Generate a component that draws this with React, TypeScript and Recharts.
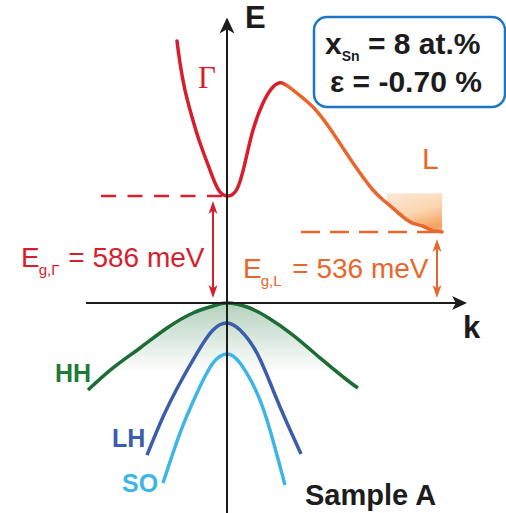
import React from 'react';
import { ComposedChart, Line, Area, XAxis, YAxis, ReferenceLine } from 'recharts';

// Gaps and sample parameters (energies in meV above the valence-band maximum)
const GAP_GAMMA = 586;
const GAP_L = 536;
const X_SN = 8;
const STRAIN = -0.7;

// Plot window in (k, E)
const K_MIN = -2.27;
const K_MAX = 2.79;
const E_MIN = -1200;
const E_MAX = 1600;

// Conduction band: Γ valley, the hump, and the L valley
const CB_K = [-0.5, -0.47, -0.42, -0.35, -0.27, -0.17, -0.09, 0, 0.1, 0.18, 0.26, 0.36, 0.46, 0.55, 0.66, 0.86, 1.06, 1.26, 1.46, 1.6, 1.76, 1.86, 1.96, 2.05, 2.1, 2.15];
const CB_E = [1388, 1274, 1134, 995, 860, 720, 622, GAP_GAMMA, 622, 757, 927, 1067, 1150, 1171, 1134, 1046, 912, 757, 617, 576, 557, 548, 544, 538, 537, GAP_L];

// Populated states in the L valley
const SHADE_FROM_K = 1.6;
const SHADE_TOP_E = 600;

// Valence bands
const HH_K = [-1.39, -1.14, -0.87, -0.6, -0.34, -0.14, 0, 0.2, 0.4, 0.66, 0.93, 1.2, 1.31];
const HH_E = [-497, -371, -257, -143, -57, -17, 0, -23, -80, -183, -314, -440, -486];
const HH_SHADE_FLOOR = -400;

const LH_K = [-0.8, -0.64, -0.47, -0.3, -0.14, 0, 0.13, 0.3, 0.46, 0.6, 0.74];
const LH_E = [-869, -651, -457, -286, -154, -114, -154, -286, -497, -686, -863];

const SO_K = [-0.64, -0.47, -0.3, -0.14, 0, 0.13, 0.3, 0.43, 0.58];
const SO_E = [-1029, -743, -514, -343, -291, -343, -514, -726, -1040];

// Annotation anchors
const GAMMA_ARROW_K = -0.14;
const L_ARROW_K = 2.1;
const GAMMA_DASH_FROM = -1.26;
const L_DASH_FROM = 0.74;
const K_AXIS_FROM = -1.41;
const K_AXIS_TO = 2.4;
const E_AXIS_TO = 1510;

const RED = '#d81e2c';
const ORANGE = '#e7672d';
const GREEN = '#1b6c35';
const BLUE = '#3a5eaa';
const CYAN = '#3fb5e7';
const INK = '#1c1c1c';
const FONT = '"Liberation Sans", Arial, Helvetica, sans-serif';

const zip = (ks: number[], es: number[]) => ks.map((k, i) => ({ k, e: es[i] }));
const cbData = zip(CB_K, CB_E);
const hhData = zip(HH_K, HH_E);
const lhData = zip(LH_K, LH_E);
const soData = zip(SO_K, SO_E);
const lShadeData = cbData.filter((p) => p.k >= SHADE_FROM_K);

// colour switch Γ -> L at the top of the hump
const humpIdx = cbData.reduce((best, p, i) => (p.k > 0 && p.e > cbData[best].e ? i : best), cbData.findIndex((p) => p.k > 0));
const humpFrac = (CB_K[humpIdx] - CB_K[0]) / (CB_K[CB_K.length - 1] - CB_K[0]);

// Energy axis is a sketch, not to scale: piecewise-linear between knots
const E_KNOTS = [E_MIN, 0, GAP_L, GAP_GAMMA, E_MAX];
const E_SPAN = [-210, 0, 71, 107, 303];

function sketchEnergyScale(): any {
  let dom = [E_MIN, E_MAX];
  let rng = [1, 0];
  const toSpan = (e: number) => {
    let i = 0;
    while (i < E_KNOTS.length - 2 && e > E_KNOTS[i + 1]) i++;
    const t = (e - E_KNOTS[i]) / (E_KNOTS[i + 1] - E_KNOTS[i]);
    return E_SPAN[i] + t * (E_SPAN[i + 1] - E_SPAN[i]);
  };
  const scale: any = (e: number) => {
    const a = toSpan(Number(dom[0]));
    const b = toSpan(Number(dom[dom.length - 1]));
    return rng[0] + ((toSpan(e) - a) / (b - a)) * (rng[rng.length - 1] - rng[0]);
  };
  scale.domain = (d?: number[]) => {
    if (d === undefined) return dom.slice();
    dom = d.slice();
    return scale;
  };
  scale.range = (r?: number[]) => {
    if (r === undefined) return rng.slice();
    rng = r.slice();
    return scale;
  };
  scale.copy = () => sketchEnergyScale().domain(dom).range(rng);
  scale.ticks = () => E_KNOTS.filter((v) => v >= Number(dom[0]) && v <= Number(dom[dom.length - 1]));
  scale.tickFormat = () => (v: number) => String(v);
  scale.nice = () => scale;
  scale.clamp = () => scale;
  return scale;
}
const energyScale = sketchEnergyScale();

type ArrowOpts = {
  color: string;
  width: number;
  head: number;
  half: number;
  startTip?: number;
  endTip?: number;
  twoWay?: boolean;
};

function arrowShape(o: ArrowOpts) {
  return (p: any) => {
    const x1 = Number(p.x1);
    const y1 = Number(p.y1);
    const x2 = Number(p.x2);
    const y2 = Number(p.y2);
    const len = Math.hypot(x2 - x1, y2 - y1) || 1;
    const ux = (x2 - x1) / len;
    const uy = (y2 - y1) / len;
    const nx = -uy;
    const ny = ux;
    const st = o.startTip ?? 0;
    const et = o.endTip ?? 0;
    const s = { x: x1 + ux * st, y: y1 + uy * st };
    const e = { x: x2 - ux * et, y: y2 - uy * et };
    const headPath = (tx: number, ty: number, dx: number, dy: number) => {
      const bx = tx - dx * o.head;
      const by = ty - dy * o.head;
      const mx = tx - dx * o.head * 0.74;
      const my = ty - dy * o.head * 0.74;
      return `M${tx},${ty}L${bx + nx * o.half},${by + ny * o.half}L${mx},${my}L${bx - nx * o.half},${by - ny * o.half}Z`;
    };
    const ls = o.twoWay ? { x: s.x + ux * o.head * 0.7, y: s.y + uy * o.head * 0.7 } : s;
    const le = { x: e.x - ux * o.head * 0.7, y: e.y - uy * o.head * 0.7 };
    return (
      <g>
        <line x1={ls.x} y1={ls.y} x2={le.x} y2={le.y} stroke={o.color} strokeWidth={o.width} />
        <path d={headPath(e.x, e.y, ux, uy)} fill={o.color} />
        {o.twoWay ? <path d={headPath(s.x, s.y, -ux, -uy)} fill={o.color} /> : null}
      </g>
    );
  };
}

export default function App() {
  return (
    <div style={{ position: 'absolute', left: 0, top: 0, width: 506, height: 513, background: '#fff', fontFamily: FONT }}>
      <ComposedChart width={506} height={513} margin={{ top: 0, right: 0, bottom: 0, left: 0 }}>
        <defs>
          <linearGradient id="cbStroke" x1="0" y1="0" x2="1" y2="0">
            <stop offset={humpFrac - 0.01} stopColor={RED} />
            <stop offset={humpFrac + 0.02} stopColor={ORANGE} />
          </linearGradient>
          <linearGradient id="hhShade" x1="0" y1="0" x2="0" y2="1">
            <stop offset="0" stopColor="#2f7f48" stopOpacity={0.6} />
            <stop offset="0.4" stopColor="#2f7f48" stopOpacity={0.3} />
            <stop offset="0.8" stopColor="#2f7f48" stopOpacity={0} />
          </linearGradient>
          <linearGradient id="lShade" x1="0" y1="0" x2="0.4" y2="1">
            <stop offset="0" stopColor="#fde9d6" />
            <stop offset="0.6" stopColor="#fbd5b0" />
            <stop offset="1" stopColor="#f5a566" />
          </linearGradient>
        </defs>
        <XAxis type="number" dataKey="k" domain={[K_MIN, K_MAX]} allowDataOverflow hide />
        <YAxis type="number" domain={[E_MIN, E_MAX]} scale={energyScale} allowDataOverflow hide />

        <Area data={hhData} dataKey="e" type="natural" baseValue={HH_SHADE_FLOOR} fill="url(#hhShade)" stroke="none" dot={false} activeDot={false} isAnimationActive={false} />
        <Area data={lShadeData} dataKey="e" type="natural" baseValue={SHADE_TOP_E} fill="url(#lShade)" fillOpacity={1} stroke="none" dot={false} activeDot={false} isAnimationActive={false} />

        <ReferenceLine segment={[{ x: GAMMA_DASH_FROM, y: GAP_GAMMA }, { x: 0, y: GAP_GAMMA }]} stroke={RED} strokeWidth={2.5} strokeDasharray="15 11.5" />
        <ReferenceLine segment={[{ x: L_DASH_FROM, y: GAP_L }, { x: L_ARROW_K, y: GAP_L }]} stroke={ORANGE} strokeWidth={2.5} strokeDasharray="19 10" />

        <Line data={soData} dataKey="e" type="natural" stroke={CYAN} strokeWidth={3.5} dot={false} activeDot={false} isAnimationActive={false} />
        <Line data={lhData} dataKey="e" type="natural" stroke={BLUE} strokeWidth={3.5} dot={false} activeDot={false} isAnimationActive={false} />
        <Line data={hhData} dataKey="e" type="natural" stroke={GREEN} strokeWidth={3.5} dot={false} activeDot={false} isAnimationActive={false} />
        <Line data={cbData} dataKey="e" type="natural" stroke="url(#cbStroke)" strokeWidth={3.5} strokeLinecap="round" dot={false} activeDot={false} isAnimationActive={false} />

        <ReferenceLine
          segment={[{ x: GAMMA_ARROW_K, y: 0 }, { x: GAMMA_ARROW_K, y: GAP_GAMMA }]}
          shape={arrowShape({ color: RED, width: 2, head: 13, half: 4.5, startTip: 5, endTip: 5, twoWay: true })}
        />
        <ReferenceLine
          segment={[{ x: L_ARROW_K, y: 0 }, { x: L_ARROW_K, y: GAP_L }]}
          shape={arrowShape({ color: ORANGE, width: 2, head: 13, half: 4.5, startTip: 5, endTip: 7, twoWay: true })}
        />

        <ReferenceLine
          segment={[{ x: K_AXIS_FROM, y: 0 }, { x: K_AXIS_TO, y: 0 }]}
          shape={arrowShape({ color: INK, width: 2, head: 15, half: 7 })}
        />
        <ReferenceLine
          segment={[{ x: 0, y: E_MIN }, { x: 0, y: E_AXIS_TO }]}
          shape={arrowShape({ color: INK, width: 2, head: 16, half: 7.5 })}
        />
      </ComposedChart>

      <svg width={506} height={513} style={{ position: 'absolute', left: 0, top: 0, pointerEvents: 'none' }} fontFamily={FONT}>
        <rect x={314} y={17} width={191} height={90} rx={13} ry={13} fill="none" stroke="#1c76c6" strokeWidth={2.5} />
        <text x={325} y={54} fontSize={30} fontWeight="bold" fill={INK}>
          x<tspan fontSize={14} dy={7}>Sn</tspan>
          <tspan dy={-7}> = {X_SN} at.%</tspan>
        </text>
        <text x={330} y={92} fontSize={30} fontWeight="bold" fill={INK}>
          ε = {STRAIN.toFixed(2)} %
        </text>

        <text x={245} y={28} fontSize={31} fontWeight="bold" fill={INK}>E</text>
        <text x={463} y={338} fontSize={31} fontWeight="bold" fill={INK}>k</text>

        <text x={198} y={88} fontSize={31} fontFamily='"Liberation Serif", "Times New Roman", serif' fill={RED}>Γ</text>
        <text x={422} y={169} fontSize={30} fill={ORANGE}>L</text>

        <text x={21} y={267} fontSize={28} fill={RED}>
          E<tspan fontSize={15} dy={8} dx={-1}>g,Γ</tspan>
          <tspan dy={-8} dx={1}> = {GAP_GAMMA} meV</tspan>
        </text>
        <text x={243} y={278} fontSize={28} fill={ORANGE}>
          E<tspan fontSize={15} dy={8} dx={-1}>g,L</tspan>
          <tspan dy={-8} dx={3}> = {GAP_L} meV</tspan>
        </text>

        <text x={55} y={382} fontSize={25} fontWeight="bold" fill="#1e7a3a">HH</text>
        <text x={112} y={447} fontSize={25} fontWeight="bold" fill={BLUE}>LH</text>
        <text x={122} y={492} fontSize={25} fontWeight="bold" fill={CYAN}>SO</text>
        <text x={305} y={505} fontSize={29} fontWeight="bold" fill={INK}>Sample A</text>
      </svg>
    </div>
  );
}
